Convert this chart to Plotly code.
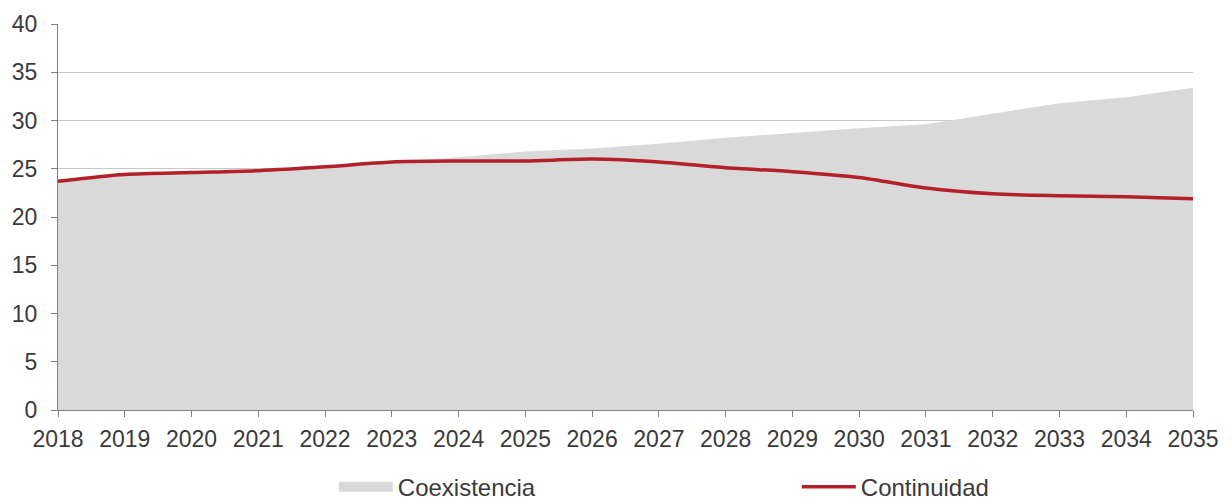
import plotly.graph_objects as go

years = list(range(2018, 2036))

# Coexistencia scenario (grey area)
coexistencia = [23.7, 24.4, 24.6, 24.8, 25.2, 25.7, 26.2, 26.8, 27.1, 27.6,
                28.2, 28.7, 29.2, 29.6, 30.7, 31.8, 32.4, 33.4]

# Continuidad scenario (red line)
continuidad = [23.7, 24.4, 24.6, 24.8, 25.2, 25.7, 25.8, 25.8, 26.0, 25.7,
               25.1, 24.7, 24.1, 23.0, 22.4, 22.2, 22.1, 21.9]

y_ticks = [0, 5, 10, 15, 20, 25, 30, 35, 40]

font_family = "Arial, Liberation Sans, sans-serif"
text_color = "#3a3a3a"
grey = "#d9d9d9"
red = "#b3202a"

fig = go.Figure()

# Grey area, legend entry drawn separately as a wide block swatch
fig.add_trace(go.Scatter(
    x=years, y=coexistencia,
    name="Coexistencia",
    mode="lines",
    fill="tozeroy",
    fillcolor=grey,
    line=dict(width=0, color=grey),
    showlegend=False,
    legendgroup="coex",
))
fig.add_trace(go.Scatter(
    x=[None], y=[None],
    name="Coexistencia",
    mode="lines",
    line=dict(width=13, color=grey),
    legendgroup="coex",
))

fig.add_trace(go.Scatter(
    x=years, y=continuidad,
    name="Continuidad",
    mode="lines",
    line=dict(color=red, width=3.5, shape="spline", smoothing=0.8),
))

fig.update_layout(
    width=1232, height=501,
    margin=dict(l=58, r=39, t=24, b=91, autoexpand=False),
    paper_bgcolor="white",
    plot_bgcolor="white",
    font=dict(family=font_family, size=23, color=text_color),
    showlegend=True,
    legend=dict(
        orientation="h",
        x=0.243, xanchor="left",
        y=-0.2, yanchor="middle",
        entrywidth=394, entrywidthmode="pixels",
        itemwidth=54,
        font=dict(size=24, color=text_color),
        traceorder="normal",
    ),
)

fig.update_xaxes(
    range=[2018, 2035],
    tickmode="array",
    tickvals=years,
    ticktext=[str(y) for y in years],
    ticks="outside", ticklen=6, tickcolor="#808080",
    ticklabelstandoff=2,
    showline=True, linecolor="#808080", linewidth=1,
    showgrid=False, zeroline=False,
    tickfont=dict(size=23, color=text_color),
)

fig.update_yaxes(
    range=[0, 40],
    tickmode="array",
    tickvals=y_ticks,
    ticks="outside", ticklen=6, tickcolor="#808080",
    ticklabelstandoff=9,
    showline=True, linecolor="#808080", linewidth=1,
    showgrid=True, gridcolor="#c8c8c8", gridwidth=1,
    zeroline=False,
    tickfont=dict(size=23, color=text_color),
)

fig.write_html("out.html")
